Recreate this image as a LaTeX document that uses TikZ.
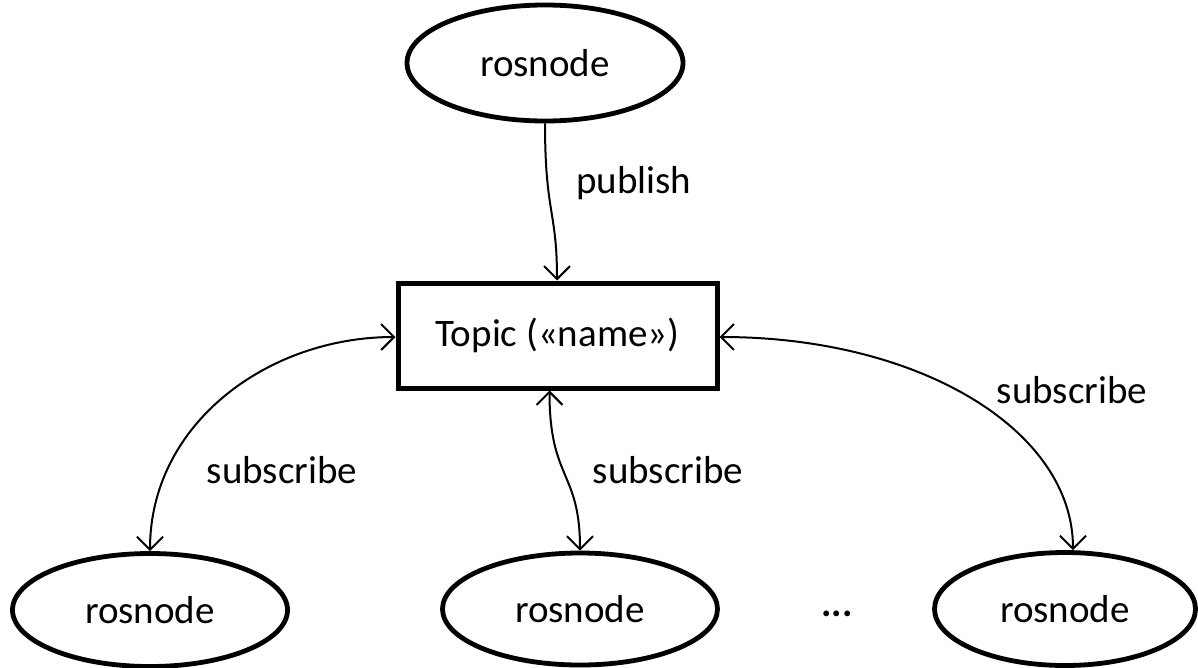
\documentclass[tikz,border=0pt]{standalone}
\usepackage{fontspec}
\setmainfont{Carlito}
\usetikzlibrary{shapes.geometric,arrows.meta}
\begin{document}
\begin{tikzpicture}[x=1pt,y=-1pt,
  ros/.style={ellipse,draw,line width=4.8pt,inner sep=0pt,font=\fontsize{39}{46}\selectfont},
  topicbox/.style={rectangle,draw,line width=5pt,inner sep=0pt,font=\fontsize{39}{46}\selectfont},
  lbl/.style={font=\fontsize{39}{46}\selectfont},
  conn/.style={line width=2pt,-{Straight Barb[length=13pt,width=26pt,line width=2pt]}},
  biconn/.style={line width=2pt,{Straight Barb[length=13pt,width=26pt,line width=2pt]}-{Straight Barb[length=13pt,width=26pt,line width=2pt]}}]
\useasboundingbox (0,0) rectangle (1198,667);
\node[ros,minimum width=276pt,minimum height=116pt] (top) at (545,63) {rosnode};
\node[topicbox,minimum width=319pt,minimum height=105pt] (topic) at (557.5,335.5) {Topic («name»)};
\node[ros,minimum width=275pt,minimum height=113pt] (bl) at (150,610) {rosnode};
\node[ros,minimum width=275pt,minimum height=112pt] (bm) at (580,609) {rosnode};
\node[ros,minimum width=261pt,minimum height=113pt] (br) at (1065,609) {rosnode};
\node[lbl,font=\fontsize{39}{46}\selectfont\bfseries] (dots) at (837,614) {...};
\coordinate (pubA) at (top.south);
\coordinate (pubB) at ([xshift=12pt]topic.north -| top.south);
\draw[conn] (pubA) .. controls +(0,90) and +(0,-70) .. (pubB);
\node[lbl] (publbl) at (634,183) {publish};
\coordinate (lA) at (topic.west |- 0,337);
\coordinate (lB) at (bl.north);
\draw[biconn] (lA) to[out=180,in=90] (lB);
\node[lbl] (llbl) at (282,470) {subscribe};
\coordinate (mA) at ([xshift=-8pt]topic.south);
\coordinate (mB) at (bm.north);
\draw[biconn] (mA) .. controls +(0,90) and +(0,-80) .. (mB);
\node[lbl] (mlbl) at (668,470) {subscribe};
\coordinate (rA) at (topic.east |- 0,337);
\coordinate (rB) at ([xshift=8pt]br.north);
\draw[biconn] (rA) .. controls +(200,0) and +(0,-120) .. (rB);
\node[lbl] (rlbl) at (1072,390) {subscribe};
\end{tikzpicture}
\end{document}
